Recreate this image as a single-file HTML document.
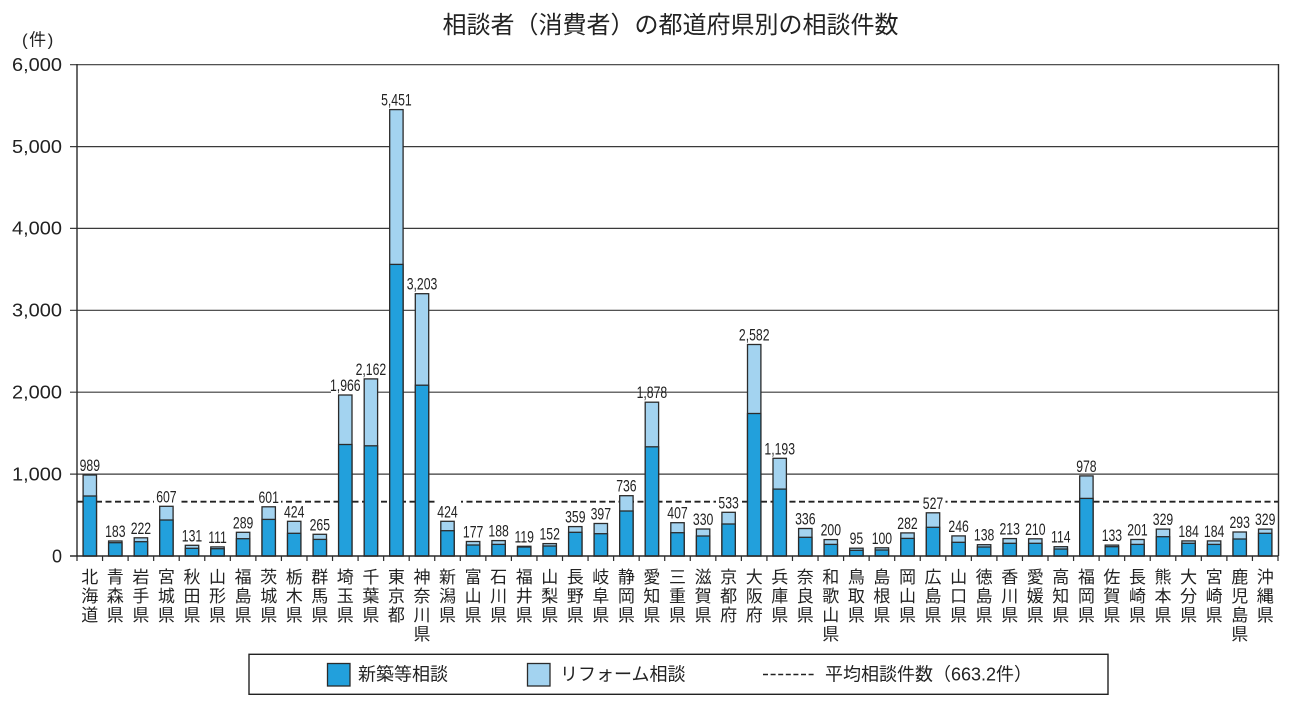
<!DOCTYPE html>
<html lang="ja">
<head>
<meta charset="utf-8">
<style>
html,body{margin:0;padding:0;background:#fff;}
body{width:1290px;height:707px;overflow:hidden;}
svg{display:block;}
.l{fill:#a3d3f0;stroke:#2b2b2b;stroke-width:1.3}
.d{fill:#22a0dc;stroke:#2b2b2b;stroke-width:1.3}
.v{font-family:"Liberation Sans",sans-serif;font-size:17px;fill:#222;text-anchor:middle}
.y{font-family:"Liberation Sans",sans-serif;font-size:18px;fill:#222;text-anchor:end}
.c{font-family:"Liberation Sans","Noto Sans CJK JP",sans-serif;font-size:17px;fill:#222;text-anchor:middle}
.t{font-family:"Liberation Sans","Noto Sans CJK JP",sans-serif;font-size:24px;fill:#222;text-anchor:middle}
.g{font-family:"Liberation Sans","Noto Sans CJK JP",sans-serif;font-size:18px;fill:#222}
</style>
</head>
<body>
<svg width="1290" height="707" viewBox="0 0 1290 707" xmlns="http://www.w3.org/2000/svg">
<rect x="0" y="0" width="1290" height="707" fill="#fff"/>
<!-- title -->
<text class="t" x="670.5" y="33">相談者（消費者）の都道府県別の相談件数</text>
<text x="22" y="45.5" style="font-family:'Liberation Sans','Noto Sans CJK JP',sans-serif;font-size:17px;fill:#222;letter-spacing:1.5px">(件)</text>

<!-- gridlines -->
<g stroke="#3a3a3a" stroke-width="1.2">
<line x1="70" y1="64.7" x2="1278.5" y2="64.7"/>
<line x1="70" y1="146.6" x2="1278.5" y2="146.6"/>
<line x1="70" y1="228.4" x2="1278.5" y2="228.4"/>
<line x1="70" y1="310.3" x2="1278.5" y2="310.3"/>
<line x1="70" y1="392.2" x2="1278.5" y2="392.2"/>
<line x1="70" y1="474.1" x2="1278.5" y2="474.1"/>
</g>
<!-- y labels -->
<text class="y" x="62" y="71.0" textLength="50" lengthAdjust="spacingAndGlyphs">6,000</text>
<text class="y" x="62" y="152.9" textLength="50" lengthAdjust="spacingAndGlyphs">5,000</text>
<text class="y" x="62" y="234.7" textLength="50" lengthAdjust="spacingAndGlyphs">4,000</text>
<text class="y" x="62" y="316.6" textLength="50" lengthAdjust="spacingAndGlyphs">3,000</text>
<text class="y" x="62" y="398.5" textLength="50" lengthAdjust="spacingAndGlyphs">2,000</text>
<text class="y" x="62" y="480.4" textLength="50" lengthAdjust="spacingAndGlyphs">1,000</text>
<text class="y" x="62" y="562.3">0</text>

<!-- average dashed line -->
<line x1="77" y1="501.7" x2="1278" y2="501.7" stroke="#222" stroke-width="1.8" stroke-dasharray="6,3.5"/>

<!-- label backgrounds -->
<g fill="#fff">
<rect x="154" y="489" width="25" height="16"/>
<rect x="256" y="489.5" width="25" height="16"/>
<rect x="716" y="495" width="25" height="16"/>
<rect x="920.5" y="495.5" width="25" height="16"/>
<rect x="435" y="498" width="26" height="7"/>
<rect x="331" y="389" width="33" height="6"/>
</g>

<!-- bars -->
<rect class="l" x="83.1" y="475.0" width="13.4" height="81.0"/><rect class="d" x="83.1" y="496.0" width="13.4" height="60.0"/>
<rect class="l" x="108.6" y="541.0" width="13.4" height="15.0"/><rect class="d" x="108.6" y="542.7" width="13.4" height="13.3"/>
<rect class="l" x="134.2" y="537.8" width="13.4" height="18.2"/><rect class="d" x="134.2" y="541.7" width="13.4" height="14.3"/>
<rect class="l" x="159.7" y="506.3" width="13.4" height="49.7"/><rect class="d" x="159.7" y="520.0" width="13.4" height="36.0"/>
<rect class="l" x="185.3" y="545.3" width="13.4" height="10.7"/><rect class="d" x="185.3" y="548.3" width="13.4" height="7.7"/>
<rect class="l" x="210.8" y="546.9" width="13.4" height="9.1"/><rect class="d" x="210.8" y="548.7" width="13.4" height="7.3"/>
<rect class="l" x="236.4" y="532.3" width="13.4" height="23.7"/><rect class="d" x="236.4" y="538.7" width="13.4" height="17.3"/>
<rect class="l" x="262.0" y="506.8" width="13.4" height="49.2"/><rect class="d" x="262.0" y="519.4" width="13.4" height="36.6"/>
<rect class="l" x="287.5" y="521.3" width="13.4" height="34.7"/><rect class="d" x="287.5" y="533.3" width="13.4" height="22.7"/>
<rect class="l" x="313.1" y="534.3" width="13.4" height="21.7"/><rect class="d" x="313.1" y="539.4" width="13.4" height="16.6"/>
<rect class="l" x="338.6" y="395.0" width="13.4" height="161.0"/><rect class="d" x="338.6" y="444.5" width="13.4" height="111.5"/>
<rect class="l" x="364.2" y="378.9" width="13.4" height="177.1"/><rect class="d" x="364.2" y="445.8" width="13.4" height="110.2"/>
<rect class="l" x="389.7" y="109.6" width="13.4" height="446.4"/><rect class="d" x="389.7" y="264.4" width="13.4" height="291.6"/>
<rect class="l" x="415.3" y="293.7" width="13.4" height="262.3"/><rect class="d" x="415.3" y="385.2" width="13.4" height="170.8"/>
<rect class="l" x="440.8" y="521.3" width="13.4" height="34.7"/><rect class="d" x="440.8" y="530.7" width="13.4" height="25.3"/>
<rect class="l" x="466.4" y="541.5" width="13.4" height="14.5"/><rect class="d" x="466.4" y="545.0" width="13.4" height="11.0"/>
<rect class="l" x="491.9" y="540.6" width="13.4" height="15.4"/><rect class="d" x="491.9" y="544.4" width="13.4" height="11.6"/>
<rect class="l" x="517.5" y="546.3" width="13.4" height="9.7"/><rect class="d" x="517.5" y="547.0" width="13.4" height="9.0"/>
<rect class="l" x="543.0" y="543.6" width="13.4" height="12.4"/><rect class="d" x="543.0" y="546.0" width="13.4" height="10.0"/>
<rect class="l" x="568.6" y="526.6" width="13.4" height="29.4"/><rect class="d" x="568.6" y="532.3" width="13.4" height="23.7"/>
<rect class="l" x="594.1" y="523.5" width="13.4" height="32.5"/><rect class="d" x="594.1" y="533.7" width="13.4" height="22.3"/>
<rect class="l" x="619.7" y="495.7" width="13.4" height="60.3"/><rect class="d" x="619.7" y="511.0" width="13.4" height="45.0"/>
<rect class="l" x="645.2" y="402.2" width="13.4" height="153.8"/><rect class="d" x="645.2" y="446.8" width="13.4" height="109.2"/>
<rect class="l" x="670.8" y="522.7" width="13.4" height="33.3"/><rect class="d" x="670.8" y="532.7" width="13.4" height="23.3"/>
<rect class="l" x="696.4" y="529.0" width="13.4" height="27.0"/><rect class="d" x="696.4" y="536.0" width="13.4" height="20.0"/>
<rect class="l" x="721.9" y="512.3" width="13.4" height="43.7"/><rect class="d" x="721.9" y="524.0" width="13.4" height="32.0"/>
<rect class="l" x="747.5" y="344.5" width="13.4" height="211.5"/><rect class="d" x="747.5" y="413.5" width="13.4" height="142.5"/>
<rect class="l" x="773.0" y="458.3" width="13.4" height="97.7"/><rect class="d" x="773.0" y="489.1" width="13.4" height="66.9"/>
<rect class="l" x="798.6" y="528.5" width="13.4" height="27.5"/><rect class="d" x="798.6" y="537.3" width="13.4" height="18.7"/>
<rect class="l" x="824.1" y="539.6" width="13.4" height="16.4"/><rect class="d" x="824.1" y="544.4" width="13.4" height="11.6"/>
<rect class="l" x="849.7" y="548.2" width="13.4" height="7.8"/><rect class="d" x="849.7" y="550.3" width="13.4" height="5.7"/>
<rect class="l" x="875.2" y="547.8" width="13.4" height="8.2"/><rect class="d" x="875.2" y="550.0" width="13.4" height="6.0"/>
<rect class="l" x="900.8" y="532.9" width="13.4" height="23.1"/><rect class="d" x="900.8" y="538.4" width="13.4" height="17.6"/>
<rect class="l" x="926.3" y="512.8" width="13.4" height="43.2"/><rect class="d" x="926.3" y="527.3" width="13.4" height="28.7"/>
<rect class="l" x="951.9" y="535.9" width="13.4" height="20.1"/><rect class="d" x="951.9" y="542.3" width="13.4" height="13.7"/>
<rect class="l" x="977.4" y="544.7" width="13.4" height="11.3"/><rect class="d" x="977.4" y="547.0" width="13.4" height="9.0"/>
<rect class="l" x="1003.0" y="538.6" width="13.4" height="17.4"/><rect class="d" x="1003.0" y="543.3" width="13.4" height="12.7"/>
<rect class="l" x="1028.6" y="538.8" width="13.4" height="17.2"/><rect class="d" x="1028.6" y="543.3" width="13.4" height="12.7"/>
<rect class="l" x="1054.1" y="546.7" width="13.4" height="9.3"/><rect class="d" x="1054.1" y="549.0" width="13.4" height="7.0"/>
<rect class="l" x="1079.7" y="475.9" width="13.4" height="80.1"/><rect class="d" x="1079.7" y="498.4" width="13.4" height="57.6"/>
<rect class="l" x="1105.2" y="545.1" width="13.4" height="10.9"/><rect class="d" x="1105.2" y="546.7" width="13.4" height="9.3"/>
<rect class="l" x="1130.8" y="539.5" width="13.4" height="16.5"/><rect class="d" x="1130.8" y="544.4" width="13.4" height="11.6"/>
<rect class="l" x="1156.3" y="529.1" width="13.4" height="26.9"/><rect class="d" x="1156.3" y="536.7" width="13.4" height="19.3"/>
<rect class="l" x="1181.9" y="540.9" width="13.4" height="15.1"/><rect class="d" x="1181.9" y="543.3" width="13.4" height="12.7"/>
<rect class="l" x="1207.4" y="540.9" width="13.4" height="15.1"/><rect class="d" x="1207.4" y="544.4" width="13.4" height="11.6"/>
<rect class="l" x="1233.0" y="532.0" width="13.4" height="24.0"/><rect class="d" x="1233.0" y="539.0" width="13.4" height="17.0"/>
<rect class="l" x="1258.5" y="529.1" width="13.4" height="26.9"/><rect class="d" x="1258.5" y="533.3" width="13.4" height="22.7"/>

<!-- axes -->
<g stroke="#2b2b2b" stroke-width="1.4" fill="none">
<line x1="77" y1="64" x2="77" y2="556"/>
<line x1="1278.5" y1="64" x2="1278.5" y2="556"/>
<line x1="70" y1="556" x2="1278.5" y2="556"/>
<path d="M77 556V561M102.55 556V561M128.11 556V561M153.66 556V561M179.21 556V561M204.77 556V561M230.32 556V561M255.87 556V561M281.42 556V561M306.98 556V561M332.53 556V561M358.08 556V561M383.64 556V561M409.19 556V561M434.74 556V561M460.3 556V561M485.85 556V561M511.4 556V561M536.95 556V561M562.51 556V561M588.06 556V561M613.61 556V561M639.17 556V561M664.72 556V561M690.27 556V561M715.83 556V561M741.38 556V561M766.93 556V561M792.48 556V561M818.04 556V561M843.59 556V561M869.14 556V561M894.7 556V561M920.25 556V561M945.8 556V561M971.36 556V561M996.91 556V561M1022.46 556V561M1048.01 556V561M1073.57 556V561M1099.12 556V561M1124.67 556V561M1150.23 556V561M1175.78 556V561M1201.33 556V561M1226.89 556V561M1252.44 556V561M1278 556V561" stroke-width="1.2"/>
</g>

<!-- value labels -->
<text class="v" transform="translate(89.8,471.0) scale(0.72,1)">989</text>
<text class="v" transform="translate(115.3,537.0) scale(0.72,1)">183</text>
<text class="v" transform="translate(140.9,533.8) scale(0.72,1)">222</text>
<text class="v" transform="translate(166.4,502.3) scale(0.72,1)">607</text>
<text class="v" transform="translate(192.0,541.3) scale(0.72,1)">131</text>
<text class="v" transform="translate(217.5,542.9) scale(0.72,1)">111</text>
<text class="v" transform="translate(243.1,528.3) scale(0.72,1)">289</text>
<text class="v" transform="translate(268.7,502.8) scale(0.72,1)">601</text>
<text class="v" transform="translate(294.2,517.3) scale(0.72,1)">424</text>
<text class="v" transform="translate(319.8,530.3) scale(0.72,1)">265</text>
<text class="v" transform="translate(345.3,391.0) scale(0.72,1)">1,966</text>
<text class="v" transform="translate(370.9,374.9) scale(0.72,1)">2,162</text>
<text class="v" transform="translate(396.4,105.6) scale(0.72,1)">5,451</text>
<text class="v" transform="translate(422.0,289.7) scale(0.72,1)">3,203</text>
<text class="v" transform="translate(447.5,517.3) scale(0.72,1)">424</text>
<text class="v" transform="translate(473.1,537.5) scale(0.72,1)">177</text>
<text class="v" transform="translate(498.6,536.6) scale(0.72,1)">188</text>
<text class="v" transform="translate(524.2,542.3) scale(0.72,1)">119</text>
<text class="v" transform="translate(549.7,539.6) scale(0.72,1)">152</text>
<text class="v" transform="translate(575.3,522.6) scale(0.72,1)">359</text>
<text class="v" transform="translate(600.8,519.5) scale(0.72,1)">397</text>
<text class="v" transform="translate(626.4,491.7) scale(0.72,1)">736</text>
<text class="v" transform="translate(651.9,398.2) scale(0.72,1)">1,878</text>
<text class="v" transform="translate(677.5,518.7) scale(0.72,1)">407</text>
<text class="v" transform="translate(703.1,525.0) scale(0.72,1)">330</text>
<text class="v" transform="translate(728.6,508.3) scale(0.72,1)">533</text>
<text class="v" transform="translate(754.2,340.5) scale(0.72,1)">2,582</text>
<text class="v" transform="translate(779.7,454.3) scale(0.72,1)">1,193</text>
<text class="v" transform="translate(805.3,524.5) scale(0.72,1)">336</text>
<text class="v" transform="translate(830.8,535.6) scale(0.72,1)">200</text>
<text class="v" transform="translate(856.4,544.2) scale(0.72,1)">95</text>
<text class="v" transform="translate(881.9,543.8) scale(0.72,1)">100</text>
<text class="v" transform="translate(907.5,528.9) scale(0.72,1)">282</text>
<text class="v" transform="translate(933.0,508.8) scale(0.72,1)">527</text>
<text class="v" transform="translate(958.6,531.9) scale(0.72,1)">246</text>
<text class="v" transform="translate(984.1,540.7) scale(0.72,1)">138</text>
<text class="v" transform="translate(1009.7,534.6) scale(0.72,1)">213</text>
<text class="v" transform="translate(1035.3,534.8) scale(0.72,1)">210</text>
<text class="v" transform="translate(1060.8,542.7) scale(0.72,1)">114</text>
<text class="v" transform="translate(1086.4,471.9) scale(0.72,1)">978</text>
<text class="v" transform="translate(1111.9,541.1) scale(0.72,1)">133</text>
<text class="v" transform="translate(1137.5,535.5) scale(0.72,1)">201</text>
<text class="v" transform="translate(1163.0,525.1) scale(0.72,1)">329</text>
<text class="v" transform="translate(1188.6,536.9) scale(0.72,1)">184</text>
<text class="v" transform="translate(1214.1,536.9) scale(0.72,1)">184</text>
<text class="v" transform="translate(1239.7,528.0) scale(0.72,1)">293</text>
<text class="v" transform="translate(1265.2,525.1) scale(0.72,1)">329</text>

<!-- category labels -->
<text class="c"><tspan x="89.8" y="583">北</tspan><tspan x="89.8" y="602">海</tspan><tspan x="89.8" y="621">道</tspan></text>
<text class="c"><tspan x="115.3" y="583">青</tspan><tspan x="115.3" y="602">森</tspan><tspan x="115.3" y="621">県</tspan></text>
<text class="c"><tspan x="140.9" y="583">岩</tspan><tspan x="140.9" y="602">手</tspan><tspan x="140.9" y="621">県</tspan></text>
<text class="c"><tspan x="166.4" y="583">宮</tspan><tspan x="166.4" y="602">城</tspan><tspan x="166.4" y="621">県</tspan></text>
<text class="c"><tspan x="192.0" y="583">秋</tspan><tspan x="192.0" y="602">田</tspan><tspan x="192.0" y="621">県</tspan></text>
<text class="c"><tspan x="217.5" y="583">山</tspan><tspan x="217.5" y="602">形</tspan><tspan x="217.5" y="621">県</tspan></text>
<text class="c"><tspan x="243.1" y="583">福</tspan><tspan x="243.1" y="602">島</tspan><tspan x="243.1" y="621">県</tspan></text>
<text class="c"><tspan x="268.7" y="583">茨</tspan><tspan x="268.7" y="602">城</tspan><tspan x="268.7" y="621">県</tspan></text>
<text class="c"><tspan x="294.2" y="583">栃</tspan><tspan x="294.2" y="602">木</tspan><tspan x="294.2" y="621">県</tspan></text>
<text class="c"><tspan x="319.8" y="583">群</tspan><tspan x="319.8" y="602">馬</tspan><tspan x="319.8" y="621">県</tspan></text>
<text class="c"><tspan x="345.3" y="583">埼</tspan><tspan x="345.3" y="602">玉</tspan><tspan x="345.3" y="621">県</tspan></text>
<text class="c"><tspan x="370.9" y="583">千</tspan><tspan x="370.9" y="602">葉</tspan><tspan x="370.9" y="621">県</tspan></text>
<text class="c"><tspan x="396.4" y="583">東</tspan><tspan x="396.4" y="602">京</tspan><tspan x="396.4" y="621">都</tspan></text>
<text class="c"><tspan x="422.0" y="583">神</tspan><tspan x="422.0" y="602">奈</tspan><tspan x="422.0" y="621">川</tspan><tspan x="422.0" y="640">県</tspan></text>
<text class="c"><tspan x="447.5" y="583">新</tspan><tspan x="447.5" y="602">潟</tspan><tspan x="447.5" y="621">県</tspan></text>
<text class="c"><tspan x="473.1" y="583">富</tspan><tspan x="473.1" y="602">山</tspan><tspan x="473.1" y="621">県</tspan></text>
<text class="c"><tspan x="498.6" y="583">石</tspan><tspan x="498.6" y="602">川</tspan><tspan x="498.6" y="621">県</tspan></text>
<text class="c"><tspan x="524.2" y="583">福</tspan><tspan x="524.2" y="602">井</tspan><tspan x="524.2" y="621">県</tspan></text>
<text class="c"><tspan x="549.7" y="583">山</tspan><tspan x="549.7" y="602">梨</tspan><tspan x="549.7" y="621">県</tspan></text>
<text class="c"><tspan x="575.3" y="583">長</tspan><tspan x="575.3" y="602">野</tspan><tspan x="575.3" y="621">県</tspan></text>
<text class="c"><tspan x="600.8" y="583">岐</tspan><tspan x="600.8" y="602">阜</tspan><tspan x="600.8" y="621">県</tspan></text>
<text class="c"><tspan x="626.4" y="583">静</tspan><tspan x="626.4" y="602">岡</tspan><tspan x="626.4" y="621">県</tspan></text>
<text class="c"><tspan x="651.9" y="583">愛</tspan><tspan x="651.9" y="602">知</tspan><tspan x="651.9" y="621">県</tspan></text>
<text class="c"><tspan x="677.5" y="583">三</tspan><tspan x="677.5" y="602">重</tspan><tspan x="677.5" y="621">県</tspan></text>
<text class="c"><tspan x="703.1" y="583">滋</tspan><tspan x="703.1" y="602">賀</tspan><tspan x="703.1" y="621">県</tspan></text>
<text class="c"><tspan x="728.6" y="583">京</tspan><tspan x="728.6" y="602">都</tspan><tspan x="728.6" y="621">府</tspan></text>
<text class="c"><tspan x="754.2" y="583">大</tspan><tspan x="754.2" y="602">阪</tspan><tspan x="754.2" y="621">府</tspan></text>
<text class="c"><tspan x="779.7" y="583">兵</tspan><tspan x="779.7" y="602">庫</tspan><tspan x="779.7" y="621">県</tspan></text>
<text class="c"><tspan x="805.3" y="583">奈</tspan><tspan x="805.3" y="602">良</tspan><tspan x="805.3" y="621">県</tspan></text>
<text class="c"><tspan x="830.8" y="583">和</tspan><tspan x="830.8" y="602">歌</tspan><tspan x="830.8" y="621">山</tspan><tspan x="830.8" y="640">県</tspan></text>
<text class="c"><tspan x="856.4" y="583">鳥</tspan><tspan x="856.4" y="602">取</tspan><tspan x="856.4" y="621">県</tspan></text>
<text class="c"><tspan x="881.9" y="583">島</tspan><tspan x="881.9" y="602">根</tspan><tspan x="881.9" y="621">県</tspan></text>
<text class="c"><tspan x="907.5" y="583">岡</tspan><tspan x="907.5" y="602">山</tspan><tspan x="907.5" y="621">県</tspan></text>
<text class="c"><tspan x="933.0" y="583">広</tspan><tspan x="933.0" y="602">島</tspan><tspan x="933.0" y="621">県</tspan></text>
<text class="c"><tspan x="958.6" y="583">山</tspan><tspan x="958.6" y="602">口</tspan><tspan x="958.6" y="621">県</tspan></text>
<text class="c"><tspan x="984.1" y="583">徳</tspan><tspan x="984.1" y="602">島</tspan><tspan x="984.1" y="621">県</tspan></text>
<text class="c"><tspan x="1009.7" y="583">香</tspan><tspan x="1009.7" y="602">川</tspan><tspan x="1009.7" y="621">県</tspan></text>
<text class="c"><tspan x="1035.3" y="583">愛</tspan><tspan x="1035.3" y="602">媛</tspan><tspan x="1035.3" y="621">県</tspan></text>
<text class="c"><tspan x="1060.8" y="583">高</tspan><tspan x="1060.8" y="602">知</tspan><tspan x="1060.8" y="621">県</tspan></text>
<text class="c"><tspan x="1086.4" y="583">福</tspan><tspan x="1086.4" y="602">岡</tspan><tspan x="1086.4" y="621">県</tspan></text>
<text class="c"><tspan x="1111.9" y="583">佐</tspan><tspan x="1111.9" y="602">賀</tspan><tspan x="1111.9" y="621">県</tspan></text>
<text class="c"><tspan x="1137.5" y="583">長</tspan><tspan x="1137.5" y="602">崎</tspan><tspan x="1137.5" y="621">県</tspan></text>
<text class="c"><tspan x="1163.0" y="583">熊</tspan><tspan x="1163.0" y="602">本</tspan><tspan x="1163.0" y="621">県</tspan></text>
<text class="c"><tspan x="1188.6" y="583">大</tspan><tspan x="1188.6" y="602">分</tspan><tspan x="1188.6" y="621">県</tspan></text>
<text class="c"><tspan x="1214.1" y="583">宮</tspan><tspan x="1214.1" y="602">崎</tspan><tspan x="1214.1" y="621">県</tspan></text>
<text class="c"><tspan x="1239.7" y="583">鹿</tspan><tspan x="1239.7" y="602">児</tspan><tspan x="1239.7" y="621">島</tspan><tspan x="1239.7" y="640">県</tspan></text>
<text class="c"><tspan x="1265.2" y="583">沖</tspan><tspan x="1265.2" y="602">縄</tspan><tspan x="1265.2" y="621">県</tspan></text>

<!-- legend -->
<rect x="249" y="654.3" width="859" height="40" fill="#fff" stroke="#222" stroke-width="1.4"/>
<rect x="327.5" y="663.5" width="22.5" height="22.5" class="d"/>
<text class="g" x="358" y="680.5">新築等相談</text>
<rect x="527.5" y="663.5" width="22.5" height="22.5" class="l"/>
<text class="g" x="560" y="680.5">リフォーム相談</text>
<line x1="763" y1="674.5" x2="816" y2="674.5" stroke="#222" stroke-width="1.6" stroke-dasharray="5,2.6"/>
<text class="g" x="825" y="680.5">平均相談件数（663.2件）</text>
</svg>
</body>
</html>
